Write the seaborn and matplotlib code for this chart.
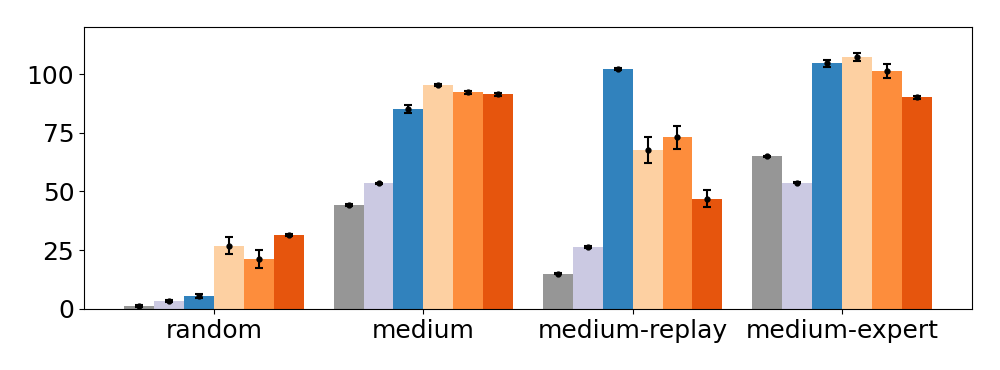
import numpy as np
import pandas as pd
import matplotlib
matplotlib.use("Agg")
import matplotlib.pyplot as plt
import seaborn as sns

# datasets on the x axis
datasets = ["random", "medium", "medium-replay", "medium-expert"]
# six methods (hue), no legend in the original
methods = ["m1", "m2", "m3", "m4", "m5", "m6"]
colors = ["#969696", "#cbc9e2", "#3182bd", "#fdd0a2", "#fd8d3c", "#e6550d"]

# mean score per method, one entry per dataset
m1 = [1.2, 44.4, 15.0, 65.0]
m2 = [3.4, 53.4, 26.5, 53.7]
m3 = [5.6, 85.0, 102.0, 104.5]
m4 = [27.0, 95.3, 67.5, 107.3]
m5 = [21.4, 92.2, 73.0, 101.2]
m6 = [31.6, 91.4, 47.0, 90.0]

# standard error per method
e1 = [0.3, 0.4, 0.3, 0.3]
e2 = [0.4, 0.4, 0.5, 0.3]
e3 = [0.8, 1.6, 0.5, 1.6]
e4 = [3.8, 0.5, 5.5, 1.6]
e5 = [3.8, 0.5, 5.0, 2.9]
e6 = [0.5, 0.6, 3.5, 0.5]

means = [m1, m2, m3, m4, m5, m6]
errs = [e1, e2, e3, e4, e5, e6]

rows = []
for name, vals, ers in zip(methods, means, errs):
    for d, v, e in zip(datasets, vals, ers):
        rows.append({"dataset": d, "method": name, "score": v, "err": e})
df = pd.DataFrame(rows)

fig, ax = plt.subplots(figsize=(10, 3.7), dpi=100)
sns.barplot(data=df, x="dataset", y="score", hue="method", order=datasets,
            hue_order=methods, palette=colors, width=6 / 7, errorbar=None,
            saturation=1, legend=False, linewidth=0, ax=ax)

# error bars on top of each bar, taken from the drawn patches
for i, name in enumerate(methods):
    sub = df[df["method"] == name].set_index("dataset").loc[datasets]
    patches = ax.patches[i * len(datasets):(i + 1) * len(datasets)]
    xs = [p.get_x() + p.get_width() / 2 for p in patches]
    ax.errorbar(xs, sub["score"], yerr=sub["err"], fmt="o", color="black",
                markersize=3.5, capsize=3, elinewidth=1.5, capthick=1.5)

ax.set_xlim(-0.622, 3.622)
ax.set_ylim(0, 120)
ax.set_yticks([0, 25, 50, 75, 100])
ax.set_xlabel("")
ax.set_ylabel("")
ax.tick_params(labelsize=18)

fig.subplots_adjust(left=0.084, right=0.972, top=0.927, bottom=0.165)
plt.savefig("out.png")
